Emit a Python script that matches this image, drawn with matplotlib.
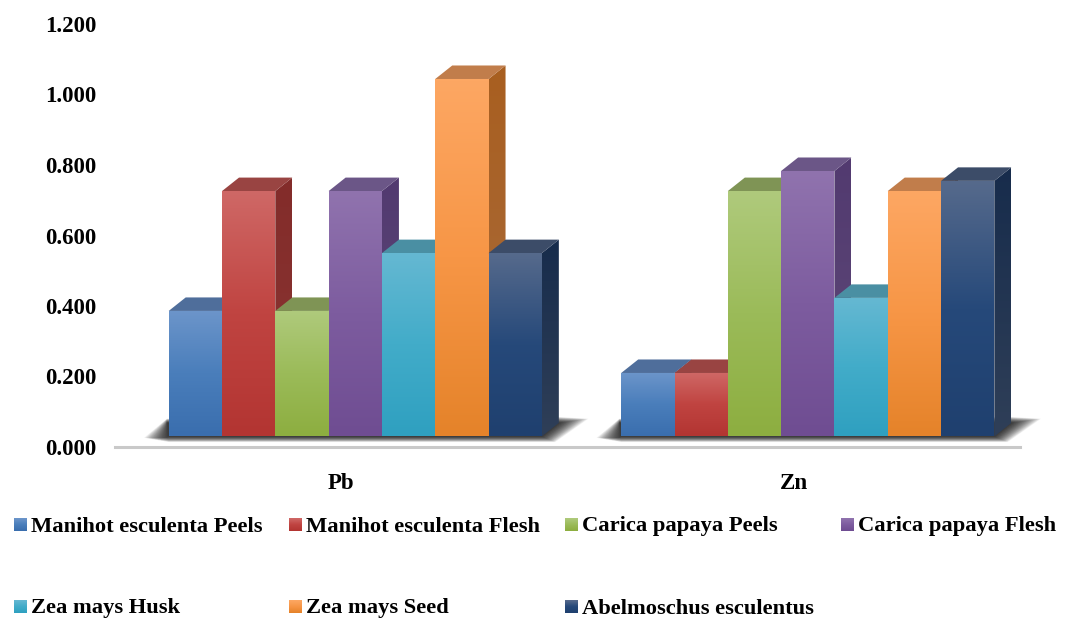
import matplotlib
matplotlib.use("Agg")
import matplotlib.pyplot as plt
import numpy as np
from matplotlib.colors import LinearSegmentedColormap
from matplotlib.patches import Polygon

plt.rcParams['font.family'] = ['Liberation Serif', 'DejaVu Serif']
plt.rcParams['font.weight'] = 'bold'

metals = ['Pb', 'Zn']
names = ['Manihot esculenta Peels', 'Manihot esculenta Flesh', 'Carica papaya Peels',
         'Carica papaya Flesh', 'Zea mays Husk', 'Zea mays Seed', 'Abelmoschus esculentus']
pb = [0.386, 0.726, 0.386, 0.726, 0.55, 1.044, 0.55]
zn = [0.21, 0.21, 0.726, 0.783, 0.423, 0.726, 0.755]

# front gradient (top, middle, bottom), side (top, bottom), roof
front = [('#6c95ca', '#4a7ebb', '#3a6eae'), ('#cf6866', '#c04441', '#b33532'),
         ('#afca7c', '#9bbb59', '#8dae40'), ('#9073ae', '#7d5c9f', '#6f4d92'),
         ('#65b8d2', '#42acc9', '#2fa0c0'), ('#fda763', '#f79646', '#e5832a'),
         ('#566a8c', '#26497a', '#1f406f')]
side = [('#4f6e9b', '#2c5487'), ('#8a3533', '#832c2a'), ('#7f9455', '#6d8530'),
        ('#5f4a78', '#523a70'), ('#4a8a9e', '#23788f'), ('#a86c3e', '#a85f20'),
        ('#2f3f58', '#172c4c')]
roof = ['#4f6e9b', '#994442', '#7f9455', '#6b5687', '#4a8fa3', '#c17d4b', '#3c4c68']

fig = plt.figure(figsize=(10.68, 6.18), dpi=100)
ax = fig.add_axes([115 / 1068, 1 - 447 / 618, 905 / 1068, 423 / 618])

floor = 0.03
bar_w = 0.1178
shift = 0.031
dx = 17 / 452.5
dy = 13.5 / 352.5


def gradient(colors, x0, x1, y0, y1, clip, z):
    cmap = LinearSegmentedColormap.from_list('g', colors)
    img = ax.imshow(np.linspace(0, 1, 100)[:, None], cmap=cmap, aspect='auto',
                    extent=[x0, x1, y1, y0], zorder=z, interpolation='bilinear')
    img.set_clip_path(Polygon(clip, transform=ax.transData))


# soft floor shadows, many faint layers
for g in range(len(metals)):
    left = g - 3.5 * bar_w + shift
    right = g + 3.5 * bar_w + shift
    for k in range(40):
        s = (40 - k) / 40
        ax.fill([left - 0.055 * s, left - 0.004, right + dx, right + dx + 0.066 * s,
                 right + 0.03 * s, left],
                [floor - 0.004, floor + dy + 0.012 * s, floor + dy + 0.017 * s,
                 floor + dy + 0.012 * s, floor - 0.016 * s, floor - 0.016 * s],
                color='black', alpha=0.03, lw=0, zorder=1, clip_on=False)

z = 2
for g, vals in enumerate([pb, zn]):
    for i, v in enumerate(vals):
        x0 = g + (i - 3.5) * bar_w + shift
        x1 = x0 + bar_w
        # side face
        gradient(side[i], x1, x1 + dx, floor, v + dy,
                 [(x1, floor), (x1 + dx, floor + dy), (x1 + dx, v + dy), (x1, v)], z)
        # roof
        ax.fill([x0, x0 + dx, x1 + dx, x1], [v, v + dy, v + dy, v], color=roof[i], lw=0, zorder=z)
        # front face
        gradient(front[i][::-1], x0, x1, floor, v,
                 [(x0, floor), (x1, floor), (x1, v), (x0, v)], z + 0.5)
        z += 1

ax.set_xlim(-0.5, 1.5)
ax.set_ylim(0, 1.2)
for name in ['top', 'right', 'left']:
    ax.spines[name].set_visible(False)
ax.spines['bottom'].set_color('#c9c9c9')
ax.spines['bottom'].set_linewidth(2.2)
ax.patch.set_alpha(0)
ax.set_xticks(range(len(metals)))
ax.set_xticklabels(metals, fontsize=16.5)
ax.set_yticks(np.arange(0, 1.21, 0.2))
ax.set_yticklabels(['%.3f' % t for t in np.arange(0, 1.21, 0.2)], fontsize=16.5)
ax.tick_params(axis='x', length=0, pad=19)
ax.tick_params(axis='y', length=0, pad=13.5)

# legend placed by hand, the columns are equal width
col_x = [14, 289, 565, 841]
row_y = [525, 607]
for i, name in enumerate(names):
    px = col_x[i % 4]
    py = row_y[i // 4]
    box = fig.add_axes([px / 1068, 1 - (py + 6) / 618, 13 / 1068, 13 / 618])
    cmap = LinearSegmentedColormap.from_list('l', front[i])
    box.imshow(np.linspace(0, 1, 20)[:, None], cmap=cmap, aspect='auto')
    box.axis('off')
    fig.text((px + 17) / 1068, 1 - (py + 1.5) / 618, name, fontsize=16.2, va='center', ha='left')

fig.savefig('out.png', dpi=100)
